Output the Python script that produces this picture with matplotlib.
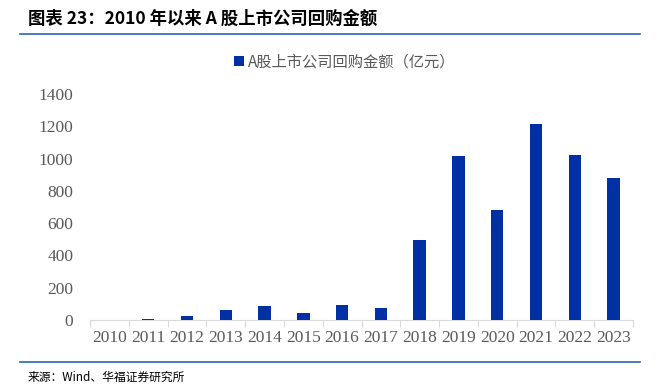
import matplotlib
matplotlib.use("Agg")
import matplotlib.pyplot as plt
import numpy as np

years = ["2010", "2011", "2012", "2013", "2014", "2015", "2016",
         "2017", "2018", "2019", "2020", "2021", "2022", "2023"]
amounts = [0, 4, 23, 62, 87, 41, 95, 72, 497, 1018, 682, 1216, 1024, 878]
yticks = [0, 200, 400, 600, 800, 1000, 1200, 1400]
series_name = "A股上市公司回购金额（亿元）"
title = "图表 23：2010 年以来 A 股上市公司回购金额"
source = "来源：Wind、华福证券研究所"

cjk = ["Noto Sans CJK SC", "DejaVu Sans"]
serif = ["Liberation Serif", "DejaVu Serif"]

fig = plt.figure(figsize=(6.63, 3.88), dpi=100)
W, H = 663, 388

ax = fig.add_axes([90 / W, 1 - 320 / H, (633 - 90) / W, (320 - 94) / H])
x = np.arange(len(years))
bar_color = "#0030A3"
ax.bar(x, amounts, width=0.32, color=bar_color, label=series_name, zorder=3)

ax.set_xlim(-0.5, len(years) - 0.5)
ax.set_ylim(0, 1400)
ax.set_yticks(yticks)
ax.set_yticklabels([str(v) for v in yticks], family=serif, fontsize=12.5, color="#595959")
ax.set_xticks(x)
ax.set_xticklabels(years, family=serif, fontsize=12.5, color="#595959")
ax.set_xticks(np.arange(-0.5, len(years)), minor=True)
ax.tick_params(axis="x", which="major", length=0, pad=7)
ax.tick_params(axis="x", which="minor", length=5, color="#D9D9D9", width=0.8)
ax.tick_params(axis="y", length=0, pad=12)
for s in ["top", "right", "left"]:
    ax.spines[s].set_visible(False)
ax.spines["bottom"].set_color("#D9D9D9")
ax.spines["bottom"].set_linewidth(0.8)

leg = fig.legend(handles=[ax.patches[0]], labels=[series_name], loc="center",
                 bbox_to_anchor=(345 / W, 1 - 62 / H), frameon=False,
                 prop={"family": cjk, "size": 11}, handlelength=0.6, handleheight=0.6,
                 handletextpad=0.3)
for t in leg.get_texts():
    t.set_color("#595959")

fig.text(28 / W, 1 - 19 / H, title, family=cjk, fontsize=12.5, fontweight="bold",
         color="black", ha="left", va="center")
fig.add_artist(plt.Line2D([20 / W, 640 / W], [1 - 34 / H, 1 - 34 / H],
                          color="#2E64B4", linewidth=1.2))
fig.add_artist(plt.Line2D([20 / W, 640 / W], [1 - 362 / H, 1 - 362 / H],
                          color="#2E64B4", linewidth=1.2))
fig.text(28 / W, 1 - 377 / H, source, family=cjk, fontsize=8.5, color="black",
         ha="left", va="center")

fig.savefig("out.png", dpi=100)
